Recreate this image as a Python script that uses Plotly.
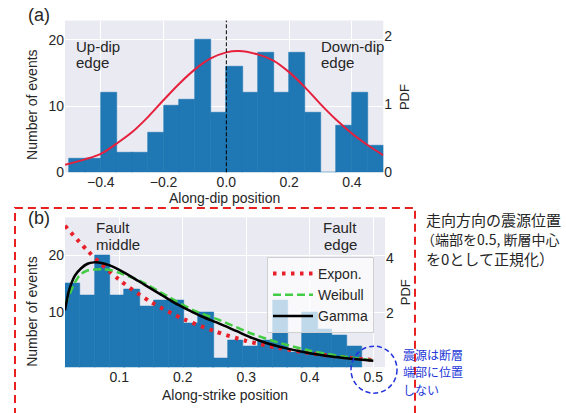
import plotly.graph_objects as go

# ---------------- data ----------------
# Panel (a): along-dip histogram (bin left edges, width 0.05)
dip_bin_left = [-0.50, -0.45, -0.40, -0.35, -0.30, -0.25, -0.20, -0.15, -0.10, -0.05,
                0.00, 0.05, 0.10, 0.15, 0.20, 0.25, 0.30, 0.35, 0.40, 0.45]
dip_counts = [2, 2, 12, 3, 3, 6, 10, 11, 20, 9,
              16, 12, 18, 12, 18, 9, 0, 7, 12, 4]
dip_bin_width = 0.05

# Panel (a): fitted normal PDF
dip_pdf_x = [-0.514, -0.45, -0.40, -0.35, -0.30, -0.25, -0.20, -0.15, -0.10, -0.05,
             0.00, 0.04, 0.10, 0.15, 0.20, 0.25, 0.30, 0.35, 0.40, 0.45, 0.50]
dip_pdf_y = [0.11, 0.19, 0.27, 0.42, 0.59, 0.81, 1.06, 1.30, 1.51, 1.67,
             1.76, 1.78, 1.73, 1.64, 1.47, 1.25, 1.00, 0.77, 0.57, 0.40, 0.25]

# Panel (b): along-strike histogram (bin left edges, equal width)
strike_bin_left = [0.0145, 0.0379, 0.0612, 0.0846, 0.1079, 0.1313, 0.1546, 0.1780, 0.2013, 0.2247,
                   0.2480, 0.2714, 0.2947, 0.3181, 0.3414, 0.3648, 0.3881, 0.4115, 0.4348, 0.4582]
strike_counts = [15, 13, 20, 13, 14, 11, 12, 12, 8, 10,
                 2, 5, 4, 5, 12, 3, 10, 7, 6, 4]
strike_bin_width = 0.02336

# Panel (b): fitted PDFs
expon_x = [0.0145, 0.05, 0.10, 0.15, 0.20, 0.25, 0.30, 0.35, 0.40, 0.45, 0.50]
expon_y = [5.15, 4.25, 3.20, 2.40, 1.80, 1.35, 1.00, 0.75, 0.56, 0.42, 0.31]

weibull_x = [0.0145, 0.022, 0.030, 0.038, 0.048, 0.060, 0.074, 0.087, 0.100, 0.134,
             0.175, 0.217, 0.258, 0.310, 0.352, 0.400, 0.450, 0.500]
weibull_y = [2.30, 2.70, 3.10, 3.38, 3.52, 3.57, 3.58, 3.55, 3.45, 3.15,
             2.62, 2.10, 1.75, 1.25, 0.93, 0.65, 0.45, 0.30]

gamma_x = [0.0145, 0.020, 0.025, 0.030, 0.040, 0.050, 0.060, 0.070, 0.085, 0.100,
           0.120, 0.140, 0.165, 0.185, 0.210, 0.230, 0.255, 0.285, 0.310, 0.335,
           0.360, 0.390, 0.415, 0.440, 0.465, 0.500]
gamma_y = [2.10, 2.75, 3.10, 3.35, 3.62, 3.78, 3.83, 3.82, 3.72, 3.56,
           3.30, 3.02, 2.68, 2.40, 2.10, 1.88, 1.65, 1.35, 1.10, 0.90,
           0.75, 0.60, 0.50, 0.42, 0.36, 0.29]

dip_ticks = [-0.4, -0.2, 0.0, 0.2, 0.4]
strike_ticks = [0.1, 0.2, 0.3, 0.4, 0.5]

# ---------------- styling ----------------
W, H = 566, 413
FONT = "Liberation Sans, Arial, sans-serif"
CJK = "Noto Sans CJK JP, sans-serif"
TXT = "#262626"
BAR = "#1f77b4"
BG = "#EAEAF2"
BLUE_TXT = "#2236D8"
OVERLAP = 1.03  # bars drawn a hair wider so neighbouring bars touch without seams


def px(x):
    return x / W


def py(y):
    return 1 - y / H


fig = go.Figure()

# (a) histogram + normal
fig.add_trace(go.Bar(x=dip_bin_left, y=dip_counts, width=dip_bin_width * OVERLAP, offset=0,
                     marker=dict(color=BAR, line=dict(width=0.6, color=BAR)), showlegend=False,
                     xaxis="x", yaxis="y"))
fig.add_trace(go.Scatter(x=dip_pdf_x, y=dip_pdf_y, mode="lines", showlegend=False,
                         line=dict(color="#E6203C", width=2, shape="spline", smoothing=1.0),
                         xaxis="x", yaxis="y2"))

# (b) histogram + fits
fig.add_trace(go.Bar(x=strike_bin_left, y=strike_counts, width=strike_bin_width * OVERLAP, offset=0,
                     marker=dict(color=BAR, line=dict(width=0.6, color=BAR)), showlegend=False,
                     xaxis="x2", yaxis="y3"))
fig.add_trace(go.Scatter(x=expon_x, y=expon_y, mode="lines", name="Expon.",
                         line=dict(color="#E8202A", width=4, dash="3.5px,5.5px",
                                   shape="spline", smoothing=0.8),
                         xaxis="x2", yaxis="y4"))
fig.add_trace(go.Scatter(x=weibull_x, y=weibull_y, mode="lines", name="Weibull",
                         line=dict(color="#44CC44", width=2.5, dash="8px,4px",
                                   shape="spline", smoothing=0.8),
                         xaxis="x2", yaxis="y4"))
fig.add_trace(go.Scatter(x=gamma_x, y=gamma_y, mode="lines", name="Gamma",
                         line=dict(color="black", width=2.5, shape="spline", smoothing=0.8),
                         xaxis="x2", yaxis="y4"))

tickfont = dict(family=FONT, size=14, color=TXT)
common_x = dict(showgrid=True, gridcolor="white", gridwidth=1, zeroline=False,
                showline=False, ticks="", tickfont=tickfont, tickformat=".1f")
common_y = dict(zeroline=False, showline=False, ticks="", tickfont=tickfont)

fig.update_layout(
    width=W, height=H, margin=dict(l=0, r=0, t=0, b=0),
    paper_bgcolor="white", plot_bgcolor=BG, bargap=0, barmode="overlay",
    font=dict(family=FONT, color=TXT),
    xaxis=dict(domain=[px(65), px(383.3)], range=[-0.514, 0.5], tickvals=dip_ticks,
               anchor="y", **common_x),
    yaxis=dict(domain=[py(175.7), py(21)], range=[0, 22.9], tickvals=[0, 10, 20],
               showgrid=True, gridcolor="white", anchor="x", **common_y),
    yaxis2=dict(overlaying="y", side="right", range=[0, 2.226], tickvals=[0, 1, 2],
                showgrid=False, anchor="x", **common_y),
    xaxis2=dict(domain=[px(65), px(385)], range=[0.0145, 0.5184], tickvals=strike_ticks,
                anchor="y3", **common_x),
    yaxis3=dict(domain=[py(374.4), py(221.7)], range=[0.4, 26.6], tickvals=[10, 20],
                showgrid=True, gridcolor="white", anchor="x2", **common_y),
    yaxis4=dict(overlaying="y3", side="right", range=[0.056, 5.45], tickvals=[2, 4],
                showgrid=False, anchor="x2", **common_y),
    legend=dict(x=px(267), y=py(262), xanchor="left", yanchor="top",
                bgcolor="rgba(255,255,255,0.72)", bordercolor="#D0D0D0", borderwidth=1,
                font=dict(family=FONT, size=14, color=TXT), itemwidth=40,
                traceorder="normal"),
)

shapes = [
    # zero line in (a)
    dict(type="line", xref="x", yref="y domain", x0=0, x1=0, y0=0, y1=1,
         line=dict(color="black", width=1, dash="4px,2px"), layer="above"),
    # red dashed box around (b)
    dict(type="rect", xref="paper", yref="paper", x0=px(15), x1=px(415), y0=py(425), y1=py(212),
         line=dict(color="#E82020", width=2, dash="8px,5px"), fillcolor="rgba(0,0,0,0)"),
    # blue dashed circle at the fault edge
    dict(type="circle", xref="paper", yref="paper", x0=px(351), x1=px(397), y0=py(401), y1=py(353),
         line=dict(color="#2233DD", width=1.5, dash="5px,3px"), fillcolor="rgba(0,0,0,0)",
         layer="above"),
]
fig.update_layout(shapes=shapes)


def ann(text, x, y, size=14, xanchor="left", color=TXT, family=FONT, angle=0,
        yanchor="middle", align="left"):
    return dict(text=text, x=px(x), y=py(y), xref="paper", yref="paper", showarrow=False,
                xanchor=xanchor, yanchor=yanchor, textangle=angle, align=align,
                font=dict(family=family, size=size, color=color))


annotations = [
    ann("(a)", 26, 15, size=18),
    ann("Up-dip", 74, 47, size=15),
    ann("edge", 74, 64, size=15),
    ann("Down-dip", 319, 47, size=15),
    ann("edge", 319, 64, size=15),
    ann("Number of events", 32, 107, size=14, xanchor="center", angle=-90),
    ann("PDF", 404, 99, size=13, xanchor="center", angle=-90),
    ann("Along-dip position", 224, 202, size=14, xanchor="center"),
    ann("(b)", 26, 222, size=18),
    ann("Fault", 94, 232, size=15),
    ann("middle", 94, 249, size=15),
    ann("Fault", 340, 232, size=15, xanchor="center"),
    ann("edge", 340, 249, size=15, xanchor="center"),
    ann("Number of events", 32, 318, size=14, xanchor="center", angle=-90),
    ann("PDF", 405, 298, size=13, xanchor="center", angle=-90),
    ann("Along-strike position", 225, 403, size=14, xanchor="center"),
    ann("走向方向の震源位置", 424, 224, size=15, family=CJK),
    ann("（端部を0.5, 断層中心", 419, 244, size=14, family=CJK),
    ann("を0として正規化）", 424, 264, size=15, family=CJK),
    ann("震源は断層", 401, 361, size=12, color=BLUE_TXT, family=CJK),
    ann("端部に位置", 401, 379, size=12, color=BLUE_TXT, family=CJK),
    ann("しない", 401, 397, size=12, color=BLUE_TXT, family=CJK),
]
fig.update_layout(annotations=annotations)

fig.write_html("out.html", config={"displayModeBar": False},
               post_script="document.body.style.margin='0px';")
